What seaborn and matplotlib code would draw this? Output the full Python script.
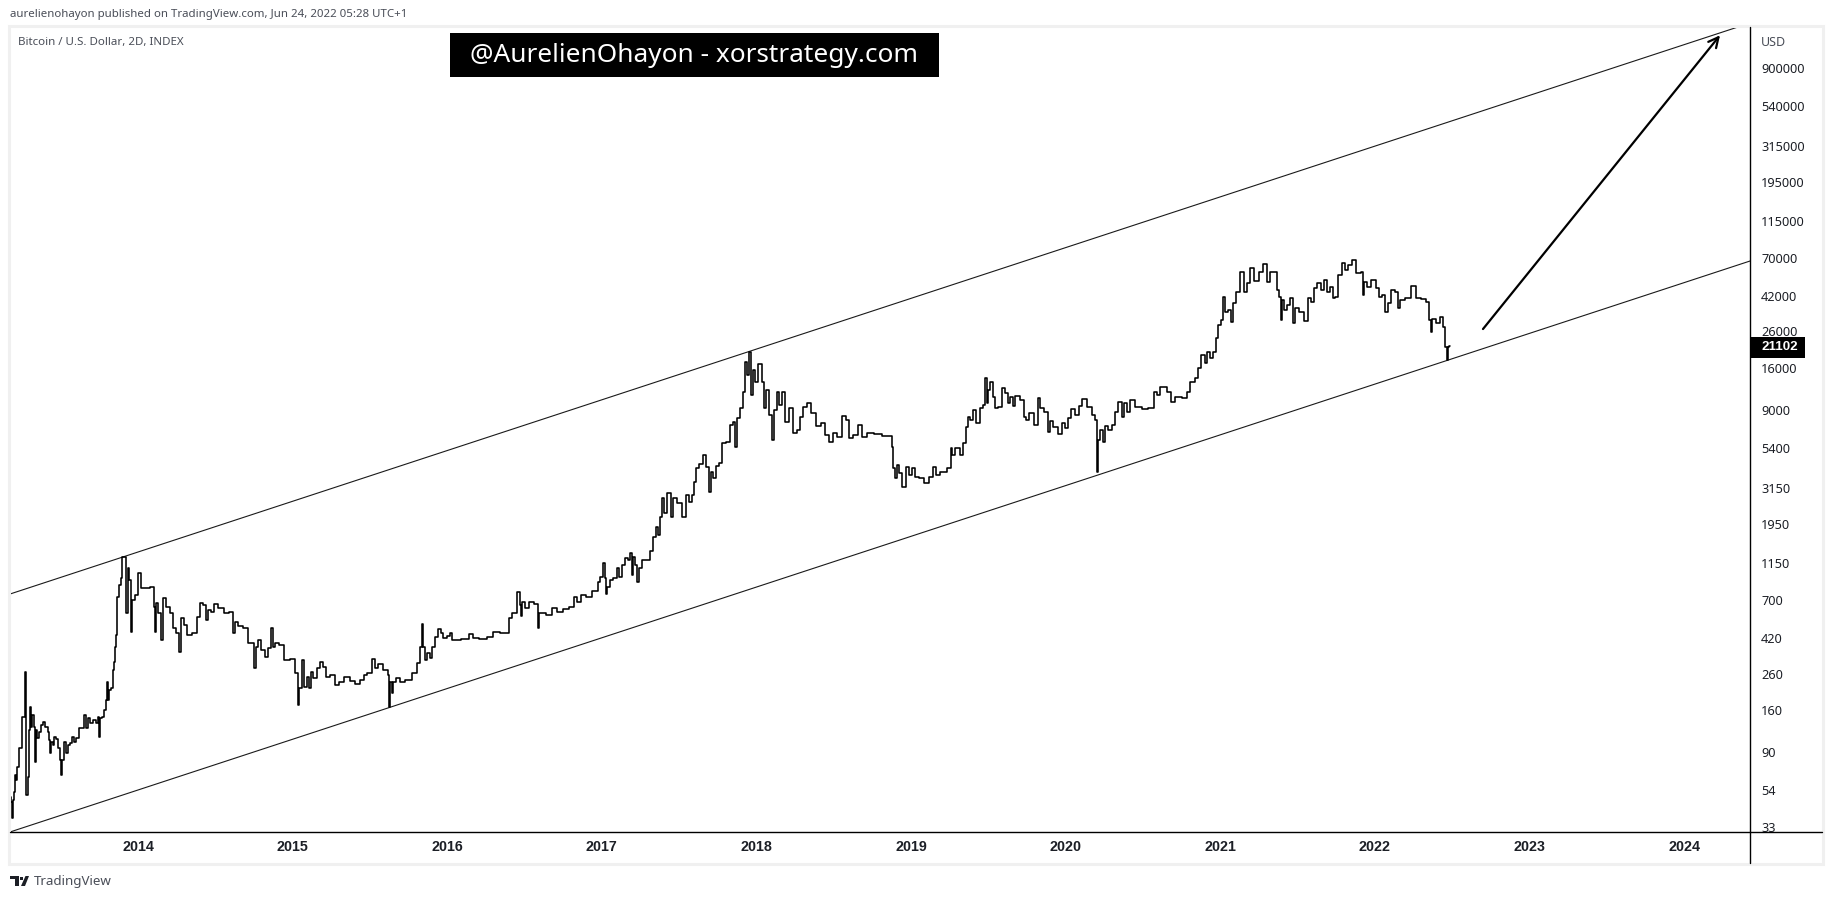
import matplotlib
matplotlib.use("Agg")
import matplotlib.pyplot as plt
import seaborn as sns
from matplotlib.lines import Line2D
from matplotlib.patches import Polygon, Rectangle

W, H = 1834, 899

# price: decimal year, USD
years = [
    2013.174, 2013.174, 2013.183, 2013.193, 2013.196, 2013.206, 2013.209, 2013.215, 2013.219, 2013.230,
    2013.232, 2013.241, 2013.254, 2013.262, 2013.271, 2013.275, 2013.282, 2013.293, 2013.297, 2013.306,
    2013.312, 2013.322, 2013.329, 2013.338, 2013.344, 2013.353, 2013.366, 2013.383, 2013.394, 2013.409,
    2013.422, 2013.430, 2013.435, 2013.443, 2013.456, 2013.463, 2013.478, 2013.491, 2013.502, 2013.506,
    2013.516, 2013.527, 2013.538, 2013.553, 2013.571, 2013.577, 2013.592, 2013.607, 2013.629, 2013.646,
    2013.661, 2013.672, 2013.685, 2013.700, 2013.717, 2013.733, 2013.743, 2013.749, 2013.758, 2013.775,
    2013.788, 2013.797, 2013.804, 2013.810, 2013.818, 2013.836, 2013.840, 2013.851, 2013.855, 2013.862,
    2013.872, 2013.883, 2013.894, 2013.905, 2013.920, 2013.931, 2013.937, 2013.948, 2013.956, 2013.969,
    2013.991, 2014.013, 2014.024, 2014.056, 2014.099, 2014.105, 2014.112, 2014.120, 2014.142, 2014.153,
    2014.166, 2014.196, 2014.218, 2014.232, 2014.260, 2014.273, 2014.289, 2014.304, 2014.325, 2014.368,
    2014.390, 2014.412, 2014.433, 2014.446, 2014.454, 2014.487, 2014.498, 2014.541, 2014.573, 2014.606,
    2014.621, 2014.629, 2014.659, 2014.703, 2014.718, 2014.745, 2014.761, 2014.771, 2014.784, 2014.810,
    2014.832, 2014.853, 2014.868, 2014.879, 2014.897, 2014.929, 2014.961, 2015.004, 2015.026, 2015.039,
    2015.048, 2015.069, 2015.080, 2015.101, 2015.117, 2015.123, 2015.144, 2015.166, 2015.188, 2015.209,
    2015.224, 2015.263, 2015.289, 2015.317, 2015.350, 2015.392, 2015.418, 2015.457, 2015.461, 2015.496,
    2015.528, 2015.537, 2015.565, 2015.608, 2015.625, 2015.628, 2015.636, 2015.644, 2015.651, 2015.683,
    2015.705, 2015.748, 2015.791, 2015.819, 2015.835, 2015.841, 2015.850, 2015.860, 2015.877, 2015.895,
    2015.910, 2015.932, 2015.949, 2015.964, 2015.985, 2016.013, 2016.018, 2016.050, 2016.126, 2016.158,
    2016.179, 2016.233, 2016.276, 2016.320, 2016.362, 2016.395, 2016.410, 2016.427, 2016.443, 2016.462,
    2016.475, 2016.479, 2016.492, 2016.518, 2016.546, 2016.582, 2016.589, 2016.595, 2016.621, 2016.660,
    2016.690, 2016.729, 2016.773, 2016.805, 2016.833, 2016.848, 2016.880, 2016.912, 2016.967, 2016.981,
    2016.999, 2017.014, 2017.022, 2017.031, 2017.041, 2017.063, 2017.085, 2017.106, 2017.113, 2017.143,
    2017.156, 2017.177, 2017.193, 2017.197, 2017.210, 2017.219, 2017.232, 2017.247, 2017.268, 2017.300,
    2017.322, 2017.344, 2017.358, 2017.371, 2017.387, 2017.397, 2017.408, 2017.440, 2017.458, 2017.467,
    2017.505, 2017.537, 2017.553, 2017.570, 2017.591, 2017.602, 2017.617, 2017.635, 2017.669, 2017.682,
    2017.701, 2017.710, 2017.732, 2017.743, 2017.769, 2017.785, 2017.818, 2017.844, 2017.850, 2017.866,
    2017.882, 2017.904, 2017.919, 2017.936, 2017.947, 2017.958, 2017.973, 2017.986, 2018.001, 2018.023,
    2018.044, 2018.051, 2018.066, 2018.098, 2018.102, 2018.126, 2018.137, 2018.158, 2018.174, 2018.199,
    2018.228, 2018.249, 2018.277, 2018.292, 2018.314, 2018.341, 2018.367, 2018.400, 2018.432, 2018.454,
    2018.486, 2018.508, 2018.536, 2018.568, 2018.587, 2018.605, 2018.644, 2018.669, 2018.691, 2018.734,
    2018.788, 2018.842, 2018.875, 2018.881, 2018.890, 2018.902, 2018.913, 2018.928, 2018.959, 2018.976,
    2018.993, 2019.025, 2019.032, 2019.068, 2019.105, 2019.133, 2019.153, 2019.166, 2019.208, 2019.252,
    2019.258, 2019.267, 2019.305, 2019.323, 2019.349, 2019.366, 2019.375, 2019.392, 2019.407, 2019.431,
    2019.457, 2019.471, 2019.486, 2019.493, 2019.506, 2019.521, 2019.538, 2019.554, 2019.575, 2019.599,
    2019.622, 2019.635, 2019.651, 2019.666, 2019.683, 2019.722, 2019.739, 2019.748, 2019.780, 2019.813,
    2019.823, 2019.845, 2019.877, 2019.897, 2019.905, 2019.937, 2019.968, 2019.978, 2020.007, 2020.023,
    2020.049, 2020.075, 2020.092, 2020.120, 2020.157, 2020.183, 2020.200, 2020.204, 2020.213, 2020.235,
    2020.248, 2020.265, 2020.286, 2020.312, 2020.325, 2020.356, 2020.369, 2020.390, 2020.405, 2020.427,
    2020.470, 2020.513, 2020.556, 2020.582, 2020.593, 2020.632, 2020.675, 2020.686, 2020.729, 2020.772,
    2020.793, 2020.819, 2020.848, 2020.862, 2020.890, 2020.906, 2020.922, 2020.944, 2020.966, 2020.977,
    2020.994, 2021.009, 2021.024, 2021.037, 2021.063, 2021.074, 2021.095, 2021.110, 2021.145, 2021.160,
    2021.181, 2021.203, 2021.236, 2021.261, 2021.289, 2021.310, 2021.332, 2021.360, 2021.375, 2021.388,
    2021.391, 2021.404, 2021.418, 2021.440, 2021.462, 2021.478, 2021.494, 2021.526, 2021.554, 2021.574,
    2021.597, 2021.612, 2021.640, 2021.657, 2021.684, 2021.698, 2021.720, 2021.737, 2021.752, 2021.774,
    2021.800, 2021.817, 2021.839, 2021.860, 2021.892, 2021.925, 2021.927, 2021.936, 2021.957, 2021.989,
    2022.021, 2022.033, 2022.059, 2022.070, 2022.097, 2022.115, 2022.141, 2022.156, 2022.173, 2022.216,
    2022.248, 2022.280, 2022.313, 2022.345, 2022.361, 2022.367, 2022.374, 2022.410, 2022.432, 2022.453,
    2022.460, 2022.468, 2022.475, 2022.486,
]
prices = [
    33.5, 49.4, 46.2, 37.3, 47.4, 53, 66, 62, 74, 74,
    96, 96, 145, 145, 266, 81, 51, 65, 122, 166,
    127, 149, 127, 79, 122, 109, 118, 130, 135, 127,
    118, 107, 89, 104, 100, 111, 108, 96, 81, 66,
    81, 104, 89, 100, 102, 111, 104, 109, 125, 125,
    149, 125, 143, 134, 139, 134, 145, 111, 143, 145,
    159, 183, 232, 183, 208, 213, 272, 304, 372, 438,
    729, 858, 941, 1249, 1249, 590, 1076, 915, 455, 698,
    749, 1010, 822, 822, 834, 637, 455, 672, 588, 409,
    719, 637, 588, 480, 450, 348, 550, 500, 438, 450,
    557, 672, 655, 536, 612, 596, 664, 629, 588, 596,
    450, 522, 494, 480, 392, 392, 280, 372, 409, 357,
    325, 367, 480, 372, 392, 382, 312, 316, 262, 171,
    214, 312, 217, 248, 214, 266, 245, 280, 304, 284,
    248, 255, 223, 232, 248, 235, 226, 238, 255, 262,
    316, 280, 296, 272, 255, 166, 232, 200, 232, 245,
    232, 238, 262, 300, 372, 509, 372, 312, 343, 321,
    372, 426, 473, 450, 420, 432, 450, 409, 414, 444,
    420, 414, 426, 455, 450, 450, 550, 588, 588, 780,
    655, 566, 682, 629, 682, 664, 480, 588, 588, 572,
    629, 596, 620, 637, 729, 682, 749, 729, 790, 892,
    954, 1150, 941, 760, 834, 915, 941, 1076, 954, 1122,
    1232, 1200, 1320, 980, 1249, 1122, 892, 1076, 1200, 1200,
    1350, 1635, 1871, 1680, 2140, 2765, 2260, 2960, 2140, 2765,
    2580, 2140, 2880, 2620, 2880, 3430, 4140, 4370, 4930, 4196,
    3000, 3920, 3620, 4250, 4430, 5790, 5870, 7390, 7690, 5490,
    8110, 9280, 11500, 17250, 14500, 19700, 11060, 15500, 13150, 16800,
    13150, 9280, 11830, 8450, 6030, 9030, 11500, 9670, 11500, 7690,
    9280, 6630, 6900, 8226, 9412, 9930, 8680, 7290, 7590, 6460,
    5870, 6630, 6284, 8340, 7900, 6200, 6460, 7390, 6284, 6630,
    6540, 6370, 6370, 5490, 4140, 3620, 4310, 3880, 3206, 4196,
    3770, 4140, 3668, 3620, 3380, 3668, 4196, 3770, 3920, 4140,
    5420, 4930, 5420, 4930, 5790, 7190, 8226, 7900, 9030, 7590,
    9280, 9670, 13900, 9930, 11830, 13150, 10768, 9280, 9412, 12150,
    11380, 9930, 10768, 9540, 10910, 10340, 8226, 7900, 8680, 7390,
    10620, 9280, 8800, 6720, 7800, 7190, 6540, 7590, 7090, 8110,
    9150, 8450, 9540, 10480, 9412, 8450, 7900, 3920, 6030, 6900,
    5870, 7290, 6900, 7390, 8800, 10070, 8226, 9930, 8800, 10340,
    9412, 9150, 9280, 11500, 11060, 12320, 11500, 10070, 10768, 10620,
    11500, 13150, 13900, 15900, 18950, 17000, 19700, 18200, 19700, 23800,
    28400, 30400, 41380, 33700, 34700, 29500, 38200, 44300, 57900, 44300,
    49900, 61100, 51300, 57900, 64500, 50600, 57900, 57900, 45500, 41380,
    30400, 39700, 34700, 37200, 40800, 29100, 35700, 33700, 30000, 40800,
    38800, 46700, 49900, 45500, 52000, 44300, 47340, 40800, 41380, 55600,
    65300, 59500, 63700, 68100, 57100, 57900, 42500, 50600, 47340, 52000,
    46700, 41380, 42500, 33700, 38200, 45500, 44300, 35700, 39700, 40800,
    48000, 40800, 40200, 38800, 30400, 25900, 30800, 29100, 31610, 27630,
    21110, 17700, 21110, 21400,
]

# channel lines and the projection arrow
upper_years = [2013.172, 2024.348]
upper_prices = [759, 1565000]
lower_years = [2013.172, 2024.426]
lower_prices = [30.85, 67090]
arrow_start = (2022.699, 26860)
arrow_end = (2024.232, 1400000)

price_ticks = [33, 54, 90, 160, 260, 420, 700, 1150, 1950, 3150, 5400, 9000, 16000,
               26000, 42000, 70000, 115000, 195000, 315000, 540000, 900000]
year_ticks = [2014, 2015, 2016, 2017, 2018, 2019, 2020, 2021, 2022, 2023, 2024]
last_price = 21102

TEXT = "#1c1f26"
GREY = "#4a4e58"
FRAME = "#f0f0f0"


def fx(x):
    return x / W


def fy(y):
    return 1 - y / H


def main():
    sns.set_style("white")
    plt.rcParams["font.family"] = ["Noto Sans", "DejaVu Sans"]

    fig = plt.figure(figsize=(W / 100, H / 100), dpi=100, facecolor="white")
    ax = fig.add_axes([fx(10), fy(832), (1750 - 10) / W, (832 - 27) / H])

    sns.lineplot(x=upper_years, y=upper_prices, color="#1a1a1a", lw=0.8, ax=ax, estimator=None)
    sns.lineplot(x=lower_years, y=lower_prices, color="#1a1a1a", lw=0.8, ax=ax, estimator=None)
    # step line reads closer to the 2D bars than a straight zigzag
    sns.lineplot(x=years, y=prices, color="black", lw=1.15, ax=ax, estimator=None, sort=False,
                 drawstyle="steps-mid")

    ax.annotate("", xy=arrow_end, xytext=arrow_start,
                arrowprops=dict(arrowstyle="->", color="black", lw=1.6, mutation_scale=18,
                                shrinkA=0, shrinkB=0))

    ax.set_yscale("log")
    ax.set_xlim(2013.172, 2024.426)
    ax.set_ylim(30.85, 1565000)
    ax.set_yticks(price_ticks)
    ax.set_yticklabels([str(p) for p in price_ticks], fontsize=9.2, color=TEXT)
    ax.minorticks_off()
    ax.yaxis.tick_right()
    ax.set_xticks(year_ticks)
    ax.set_xticklabels([str(y) for y in year_ticks], fontsize=10.3, fontweight="bold",
                       family="Liberation Sans", color=TEXT)
    ax.tick_params(axis="y", length=0, pad=8)
    ax.tick_params(axis="x", length=0, pad=6)
    ax.set_xlabel("")
    ax.set_ylabel("")
    ax.grid(False)
    for side in ax.spines:
        ax.spines[side].set_visible(False)

    # frame and axis rules, these run past the plot area
    fig.add_artist(Rectangle((fx(9), fy(864)), (1823 - 9) / W, (864 - 26) / H, transform=fig.transFigure,
                             fill=False, edgecolor=FRAME, lw=2.2))
    fig.add_artist(Line2D([fx(10), fx(1822)], [fy(832), fy(832)], color="black", lw=1.0))
    fig.add_artist(Line2D([fx(1750), fx(1750)], [fy(27), fy(863)], color="black", lw=1.0))

    fig.text(fx(10), fy(15), "aurelienohayon published on TradingView.com, Jun 24, 2022 05:28 UTC+1",
             fontsize=8.25, color=GREY, va="center")
    fig.text(fx(18), fy(42), "Bitcoin / U.S. Dollar, 2D, INDEX", fontsize=8.3, color=GREY, va="center")
    fig.text(fx(1761), fy(42), "USD", fontsize=9, color=GREY, va="center")

    # watermark box
    fig.add_artist(Rectangle((fx(450), fy(77)), (939 - 450) / W, (77 - 33) / H, transform=fig.transFigure,
                             color="black", lw=0))
    fig.text(fx(693.5), fy(55.5), "@AurelienOhayon - xorstrategy.com", fontsize=18.9, color="white",
             ha="center", va="center", fontweight="medium")

    # last price tag
    fig.add_artist(Rectangle((fx(1750), fy(358)), 55 / W, 21 / H, transform=fig.transFigure,
                             color="black", lw=0))
    fig.text(fx(1761), fy(347.5), str(last_price), fontsize=9.6, fontweight="bold",
             family="Liberation Sans", color="white", va="center")

    # TradingView logo
    fig.add_artist(Polygon([(fx(10), fy(876)), (fx(19), fy(876)), (fx(19), fy(886)), (fx(15), fy(886)),
                            (fx(15), fy(879)), (fx(10), fy(879))], closed=True, color=TEXT, lw=0,
                           transform=fig.transFigure))
    fig.add_artist(Polygon([(fx(25.5), fy(876)), (fx(29), fy(876)), (fx(25), fy(886)), (fx(21), fy(886))],
                           closed=True, color=TEXT, lw=0, transform=fig.transFigure))
    fig.add_artist(Polygon([(fx(20), fy(876.5)), (fx(23), fy(876.5)), (fx(23), fy(879.5)), (fx(20), fy(879.5))],
                           closed=True, color=TEXT, lw=0, transform=fig.transFigure))
    fig.text(fx(34), fy(881.5), "TradingView", fontsize=9.6, color=GREY, va="center")

    fig.savefig("out.png", dpi=100, facecolor="white")


if __name__ == "__main__":
    main()
